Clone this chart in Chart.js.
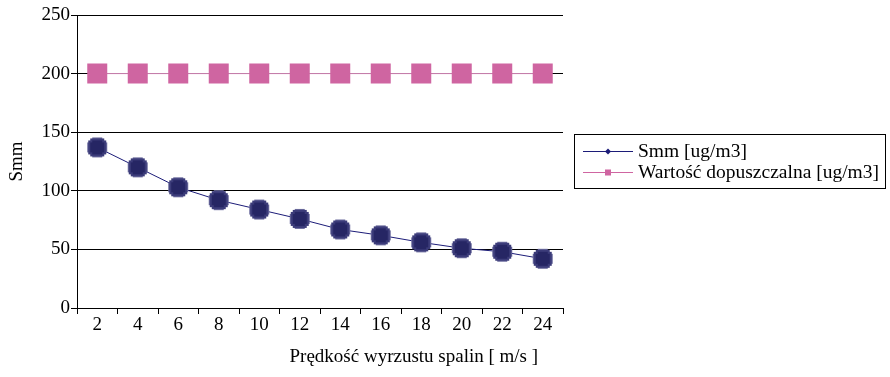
<!DOCTYPE html>
<html>
<head>
<meta charset="utf-8">
<script src="https://cdn.jsdelivr.net/npm/chart.js@4/dist/chart.umd.min.js"></script>
<style>
  html, body { margin: 0; padding: 0; background: #fff; }
  #wrap { width: 890px; height: 377px; }
</style>
</head>
<body>
<div id="wrap"><canvas id="c" width="890" height="377"></canvas></div>
<script>
// Exhaust gas speed categories [m/s]
const categories = ['2', '4', '6', '8', '10', '12', '14', '16', '18', '20', '22', '24'];
// Computed concentration Smm [ug/m3]
const smmValues = [137, 120, 103, 92, 84, 76, 67, 62, 56, 51, 48, 42];
// Permissible value [ug/m3]
const limitValues = [200, 200, 200, 200, 200, 200, 200, 200, 200, 200, 200, 200];
const yTicks = [0, 50, 100, 150, 200, 250];

const smmLabel = 'Smm [ug/m3]';
const limitLabel = 'Wartość dopuszczalna [ug/m3]';
const xTitle = 'Prędkość wyrzustu spalin [ m/s ]';
const yTitle = 'Smm';

const NAVY = '#1c1c78';
const PINK = '#cf65a1';
const FONT = '"Liberation Serif", "Times New Roman", serif';
const FSIZE = 19;

// Blocky navy marker: a soft outer cross with a darker octagonal core
function makeNavyMarker(size) {
  const cv = document.createElement('canvas');
  cv.width = size; cv.height = size;
  const g = cv.getContext('2d');
  const c = size / 2;
  g.fillStyle = '#6a6a9c';
  g.fillRect(c - 10, c - 5, 20, 10);
  g.fillRect(c - 5, c - 10, 10, 20);
  g.fillStyle = '#3c3c7a';
  g.fillRect(c - 9, c - 7, 18, 14);
  g.fillRect(c - 7, c - 9, 14, 18);
  g.fillStyle = '#262664';
  g.fillRect(c - 7, c - 5, 14, 10);
  g.fillRect(c - 5, c - 7, 10, 14);
  return cv;
}
const navyMarker = makeNavyMarker(22);

function drawSmallDiamond(ctx, x, y) {
  ctx.beginPath();
  ctx.moveTo(x, y - 3); ctx.lineTo(x + 3, y); ctx.lineTo(x, y + 3); ctx.lineTo(x - 3, y);
  ctx.closePath(); ctx.fill();
}

// Boxed legend to the right of the plot: line sample with marker, then label
const legendBox = {
  id: 'legendBox',
  afterDraw(chart) {
    const ctx = chart.ctx;
    const area = chart.chartArea;
    const left = area.right + 11, top = 134, w = 311, h = 54;
    ctx.save();
    ctx.strokeStyle = '#000';
    ctx.lineWidth = 1;
    ctx.strokeRect(left + 0.5, top + 0.5, w, h);
    const rows = [
      { label: chart.data.datasets[0].label, color: NAVY, mark: 'diamond', y: top + 17 },
      { label: chart.data.datasets[1].label, color: PINK, mark: 'square', y: top + 38 }
    ];
    ctx.font = (FSIZE + 0.5) + 'px ' + FONT;
    ctx.textBaseline = 'middle';
    rows.forEach(r => {
      const x0 = left + 9, x1 = left + 59, xm = (x0 + x1) / 2;
      ctx.strokeStyle = r.color;
      ctx.lineWidth = 1;
      ctx.beginPath();
      ctx.moveTo(x0, r.y + 0.5); ctx.lineTo(x1, r.y + 0.5);
      ctx.stroke();
      ctx.fillStyle = r.color;
      if (r.mark === 'diamond') {
        drawSmallDiamond(ctx, xm, r.y + 0.5);
      } else {
        ctx.fillRect(xm - 3, r.y - 2.5, 6, 6);
      }
      ctx.fillStyle = '#000';
      ctx.fillText(r.label, x1 + 5, r.y + 1);
    });
    ctx.restore();
  }
};

// X axis title, placed right of centre under the plot
const xTitlePlugin = {
  id: 'xTitlePlugin',
  afterDraw(chart) {
    const ctx = chart.ctx;
    const a = chart.chartArea;
    ctx.save();
    ctx.font = FSIZE + 'px ' + FONT;
    ctx.fillStyle = '#000';
    ctx.textAlign = 'center';
    ctx.textBaseline = 'middle';
    ctx.fillText(xTitle, a.left + (a.right - a.left) * 0.693, 357);
    ctx.restore();
  }
};

new Chart(document.getElementById('c'), {
  type: 'line',
  data: {
    labels: categories,
    datasets: [
      {
        label: smmLabel,
        data: smmValues,
        borderColor: NAVY,
        borderWidth: 1,
        pointStyle: navyMarker,
        pointRadius: 11,
        pointHoverRadius: 11,
        tension: 0
      },
      {
        label: limitLabel,
        data: limitValues,
        borderColor: '#d98cbc',
        borderWidth: 1,
        backgroundColor: PINK,
        pointBackgroundColor: PINK,
        pointBorderWidth: 0,
        pointStyle: 'rect',
        pointRadius: 14.14,
        pointHoverRadius: 14.14,
        tension: 0
      }
    ]
  },
  plugins: [legendBox, xTitlePlugin],
  options: {
    responsive: false,
    animation: false,
    events: [],
    layout: { padding: { top: 15, right: 327, bottom: 0, left: 0 } },
    plugins: { legend: { display: false }, tooltip: { enabled: false } },
    scales: {
      x: {
        type: 'category',
        offset: true,
        grid: {
          offset: true,
          drawOnChartArea: false,
          drawTicks: true,
          tickLength: 6,
          color: '#000'
        },
        border: { color: '#000', width: 1 },
        ticks: { color: '#000', font: { family: FONT, size: FSIZE }, padding: 0, maxRotation: 0, autoSkip: false },
        afterFit(scale) { scale.height = 69; }
      },
      y: {
        min: 0,
        max: 250,
        afterBuildTicks(scale) { scale.ticks = yTicks.map(v => ({ value: v })); },
        grid: { color: '#000', lineWidth: 1, drawTicks: true, tickLength: 6 },
        border: { color: '#000', width: 1 },
        ticks: { color: '#000', font: { family: FONT, size: FSIZE }, padding: 1 },
        title: { display: true, text: yTitle, color: '#000', font: { family: FONT, size: FSIZE }, padding: { top: 6, bottom: 0 } },
        afterFit(scale) { scale.width = 77; }
      }
    }
  }
});
</script>
</body>
</html>
